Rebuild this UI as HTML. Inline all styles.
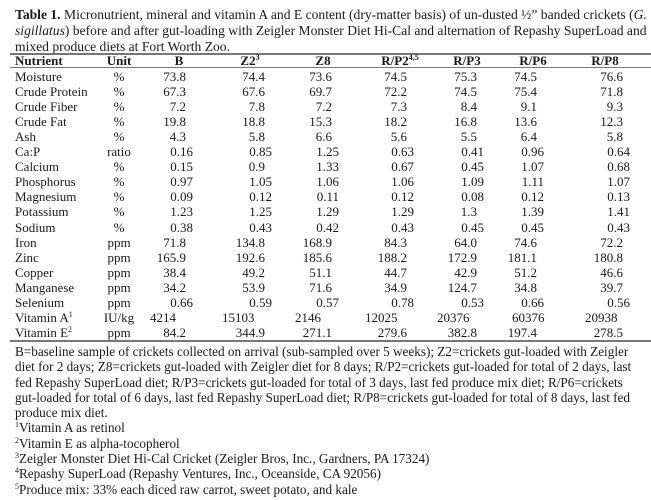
<!DOCTYPE html>
<html><head><meta charset="utf-8"><style>
body{margin:0;background:#fff;width:651px;height:500px;position:relative;overflow:hidden;font-family:"Liberation Serif",serif;color:#1a1a1a}
.t{position:absolute;left:15px;font-size:13.6px;white-space:nowrap;line-height:16px}
.r{position:absolute;height:1.5px;background:#777;left:10px;right:0}
.c{position:absolute;font-size:13px;white-space:nowrap;line-height:15px}
.rt{text-align:right}
.h{font-weight:bold}
sup{font-size:8px;line-height:0;vertical-align:5px}
</style></head><body>
<div class="t" style="top:7px"><b>Table 1.</b> Micronutrient, mineral and vitamin A and E content (dry-matter basis) of un-dusted ½” banded crickets (<i>G.</i></div>
<div class="t" style="top:23px"><i>sigillatus</i>) before and after gut-loading with Zeigler Monster Diet Hi-Cal and alternation of Repashy SuperLoad and</div>
<div class="t" style="top:39px">mixed produce diets at Fort Worth Zoo.</div>
<div class="r" style="top:53px"></div>
<div class="r" style="top:67px;height:1px"></div>
<div class="r" style="top:340px"></div>
<div id="tb"></div>
<div class="t" style="top:344px;line-height:15.3px;font-size:13.2px">B=baseline sample of crickets collected on arrival (sub-sampled over 5 weeks); Z2=crickets gut-loaded with Zeigler<br>diet for 2 days; Z8=crickets gut-loaded with Zeigler diet for 8 days; R/P2=crickets gut-loaded for total of 2 days, last<br>fed Repashy SuperLoad diet; R/P3=crickets gut-loaded for total of 3 days, last fed produce mix diet; R/P6=crickets<br>gut-loaded for total of 6 days, last fed Repashy SuperLoad diet; R/P8=crickets gut-loaded for total of 8 days, last fed<br>produce mix diet.<br><sup>1</sup>Vitamin A as retinol<br><sup>2</sup>Vitamin E as alpha-tocopherol<br><sup>3</sup>Zeigler Monster Diet Hi-Cal Cricket (Zeigler Bros, Inc., Gardners, PA 17324)<br><sup>4</sup>Repashy SuperLoad (Repashy Ventures, Inc., Oceanside, CA 92056)<br><sup>5</sup>Produce mix: 33% each diced raw carrot, sweet potato, and kale</div>
<script>
var rows=[
["Moisture","%","73.8","74.4","73.6","74.5","75.3","74.5","76.6"],
["Crude Protein","%","67.3","67.6","69.7","72.2","74.5","75.4","71.8"],
["Crude Fiber","%","7.2","7.8","7.2","7.3","8.4","9.1","9.3"],
["Crude Fat","%","19.8","18.8","15.3","18.2","16.8","13.6","12.3"],
["Ash","%","4.3","5.8","6.6","5.6","5.5","6.4","5.8"],
["Ca:P","ratio","0.16","0.85","1.25","0.63","0.41","0.96","0.64"],
["Calcium","%","0.15","0.9","1.33","0.67","0.45","1.07","0.68"],
["Phosphorus","%","0.97","1.05","1.06","1.06","1.09","1.11","1.07"],
["Magnesium","%","0.09","0.12","0.11","0.12","0.08","0.12","0.13"],
["Potassium","%","1.23","1.25","1.29","1.29","1.3","1.39","1.41"],
["Sodium","%","0.38","0.43","0.42","0.43","0.45","0.45","0.43"],
["Iron","ppm","71.8","134.8","168.9","84.3","64.0","74.6","72.2"],
["Zinc","ppm","165.9","192.6","185.6","188.2","172.9","181.1","180.8"],
["Copper","ppm","38.4","49.2","51.1","44.7","42.9","51.2","46.6"],
["Manganese","ppm","34.2","53.9","71.6","34.9","124.7","34.8","39.7"],
["Selenium","ppm","0.66","0.59","0.57","0.78","0.53","0.66","0.56"],
["Vitamin A<sup>1</sup>","IU/kg","4214","15103","2146","12025","20376","60376","20938"],
["Vitamin E<sup>2</sup>","ppm","84.2","344.9","271.1","279.6","382.8","197.4","278.5"]];
var re=[186,265,332,407,477,537,623], hc=[179,250,323,400,467,533,605], va=[150,222,295,365,437,512,585];
var h='';
function cell(x,y,txt,cls,st){h+='<div class="c '+cls+'" style="top:'+y+'px;'+st+'">'+txt+'</div>';}
var hd=["B","Z2<sup>3</sup>","Z8","R/P2<sup>4,5</sup>","R/P3","R/P6","R/P8"];
cell(0,53,"Nutrient","h","left:15px");
cell(0,53,"Unit","h","left:89px;width:60px;text-align:center");
for(var j=0;j<7;j++)cell(0,53,hd[j],"h","left:"+(hc[j]-40)+"px;width:80px;text-align:center");
for(var i=0;i<rows.length;i++){var y=69+i*15.05,r=rows[i];
cell(0,y,r[0],"","left:15px");
cell(0,y,r[1],"","left:89px;width:60px;text-align:center");
for(var j=0;j<7;j++){var v=r[2+j];
 if(i==16){cell(0,y,v,"","left:"+va[j]+"px");}
 else{var d=v.split('.')[1];var adj=(d&&d.length==2)?7:0;cell(0,y,v,"rt","right:"+(651-re[j]-adj)+"px");}
}}
document.getElementById('tb').innerHTML=h;
</script>
</body></html>
